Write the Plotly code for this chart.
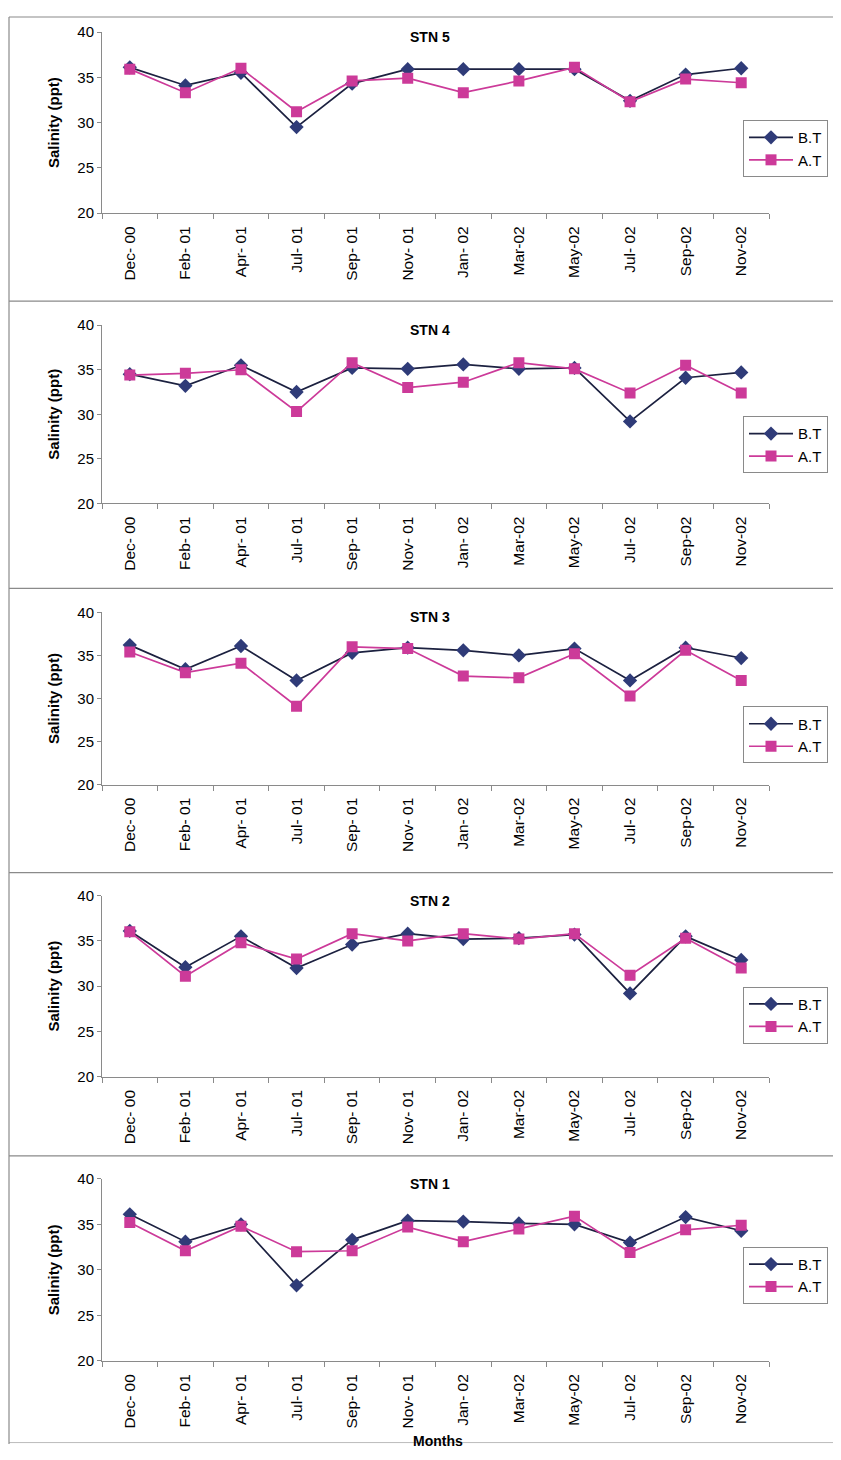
import plotly.graph_objects as go

# page body has a margin; size the figure so the whole page fits 841 wide
PAGE_W, PAGE_H = 841, 1460
OFF = 8
FW, FH = PAGE_W - 2 * OFF, PAGE_H - 2 * OFF

months = ["Dec- 00", "Feb- 01", "Apr- 01", "Jul- 01", "Sep- 01", "Nov- 01",
          "Jan- 02", "Mar-02", "May-02", "Jul- 02", "Sep-02", "Nov-02"]

stations = ["STN 5", "STN 4", "STN 3", "STN 2", "STN 1"]

stn5_bt = [36.1, 34.1, 35.5, 29.5, 34.3, 35.9, 35.9, 35.9, 35.9, 32.4, 35.3, 36.0]
stn5_at = [35.9, 33.3, 36.0, 31.2, 34.6, 34.9, 33.3, 34.6, 36.1, 32.3, 34.8, 34.4]

stn4_bt = [34.5, 33.2, 35.5, 32.5, 35.2, 35.1, 35.6, 35.1, 35.2, 29.2, 34.1, 34.7]
stn4_at = [34.4, 34.6, 35.0, 30.3, 35.8, 33.0, 33.6, 35.8, 35.1, 32.4, 35.5, 32.4]

stn3_bt = [36.2, 33.4, 36.1, 32.1, 35.3, 35.9, 35.6, 35.0, 35.8, 32.1, 35.9, 34.7]
stn3_at = [35.4, 33.0, 34.1, 29.1, 36.0, 35.8, 32.6, 32.4, 35.2, 30.3, 35.6, 32.1]

stn2_bt = [36.1, 32.1, 35.5, 32.0, 34.6, 35.8, 35.2, 35.3, 35.7, 29.2, 35.5, 32.9]
stn2_at = [36.0, 31.1, 34.8, 33.0, 35.8, 35.0, 35.8, 35.2, 35.8, 31.2, 35.3, 32.0]

stn1_bt = [36.1, 33.1, 35.0, 28.3, 33.3, 35.4, 35.3, 35.1, 35.0, 33.0, 35.8, 34.3]
stn1_at = [35.2, 32.1, 34.8, 32.0, 32.1, 34.7, 33.1, 34.5, 35.9, 31.9, 34.4, 34.9]

bt_series = [stn5_bt, stn4_bt, stn3_bt, stn2_bt, stn1_bt]
at_series = [stn5_at, stn4_at, stn3_at, stn2_at, stn1_at]

# layout geometry (target pixels on the picture)
plot_y = [(32, 213), (325, 503), (612, 784), (895, 1076), (1178, 1360)]
panel_y = [8, 301, 588, 872, 1155]
legend_top = [120, 416, 706, 986, 1246]
x_left, x_right = 102, 769

BT_LINE = "#1c2140"
BT_MARK = "#2f3b78"
AT_COL = "#cc3a99"

# vertical calibration between target picture pixels and page pixels
V_SCALE = 0.98753
V_TOP = 17.0


def px(x):
    return (x - OFF) / FW


def py(y):
    page_y = (y - V_TOP) / V_SCALE + OFF
    fy = 1 - (page_y - OFF) / FH
    return min(max(fy, 0.0), 1.0)


fig = go.Figure()
layout = dict(
    width=FW, height=FH,
    margin=dict(l=0, r=0, t=0, b=0),
    paper_bgcolor="white", plot_bgcolor="white",
    font=dict(family="Liberation Sans, Arial, sans-serif", color="black"),
    showlegend=True,
)
annotations = []
shapes = []

for i in range(5):
    n = "" if i == 0 else str(i + 1)
    xa, ya = "x" + n, "y" + n
    lg = "legend" if i == 0 else "legend" + str(i + 1)
    fig.add_trace(go.Scatter(
        x=months, y=bt_series[i], name="B.T", mode="lines+markers",
        line=dict(color=BT_LINE, width=1.7),
        marker=dict(symbol="diamond", size=11, color=BT_MARK),
        xaxis=xa, yaxis=ya, legend=lg))
    fig.add_trace(go.Scatter(
        x=months, y=at_series[i], name="A.T", mode="lines+markers",
        line=dict(color=AT_COL, width=1.7),
        marker=dict(symbol="square", size=11, color=AT_COL),
        xaxis=xa, yaxis=ya, legend=lg))

    y0, y1 = plot_y[i]
    layout["xaxis" + n] = dict(
        domain=[px(x_left), px(x_right)], anchor=ya,
        type="category", range=[-0.5, 11.5],
        showline=True, linecolor="#8a8a8a", linewidth=1,
        ticks="outside", ticklen=5, tickcolor="#8a8a8a", tickson="boundaries",
        tickangle=-90, tickfont=dict(size=15.5, color="black"),
        ticklabelstandoff=6,
        showgrid=False, zeroline=False,
    )
    layout["yaxis" + n] = dict(
        domain=[py(y1), py(y0)], anchor=xa,
        range=[20, 40], dtick=5, tick0=20,
        showline=True, linecolor="#8a8a8a", linewidth=1,
        ticks="outside", ticklen=4, tickcolor="#8a8a8a",
        tickfont=dict(size=15, color="black"),
        showgrid=False, zeroline=False,
        title=dict(text="<b>Salinity (ppt)</b>", font=dict(size=15), standoff=14),
    )
    layout[lg] = dict(
        x=px(743), y=py(legend_top[i]), xanchor="left", yanchor="top",
        bgcolor="white", bordercolor="#8a8a8a", borderwidth=1,
        font=dict(size=15, color="black"),
        itemwidth=44, tracegroupgap=0,
    )
    annotations.append(dict(
        text="<b>" + stations[i] + "</b>", x=px(430), y=py(y0 + 5),
        xref="paper", yref="paper", showarrow=False,
        xanchor="center", yanchor="middle", font=dict(size=14)))
    shapes.append(dict(type="line", xref="paper", yref="paper",
                       x0=px(9), x1=px(840), y0=py(panel_y[i]), y1=py(panel_y[i]),
                       line=dict(color="#8a8a8a", width=1.2)))

shapes.append(dict(type="line", xref="paper", yref="paper",
                   x0=px(9), x1=px(840), y0=0.001, y1=0.001,
                   line=dict(color="#bbbbbb", width=1)))
shapes.append(dict(type="line", xref="paper", yref="paper",
                   x0=px(9), x1=px(9), y0=py(8), y1=0.0,
                   line=dict(color="#8a8a8a", width=1.2)))

annotations.append(dict(
    text="<b>Months</b>", x=px(438), y=py(1440), xref="paper", yref="paper",
    showarrow=False, xanchor="center", yanchor="middle", font=dict(size=14)))

layout["annotations"] = annotations
layout["shapes"] = shapes
fig.update_layout(**layout)
fig.write_html("out.html")
